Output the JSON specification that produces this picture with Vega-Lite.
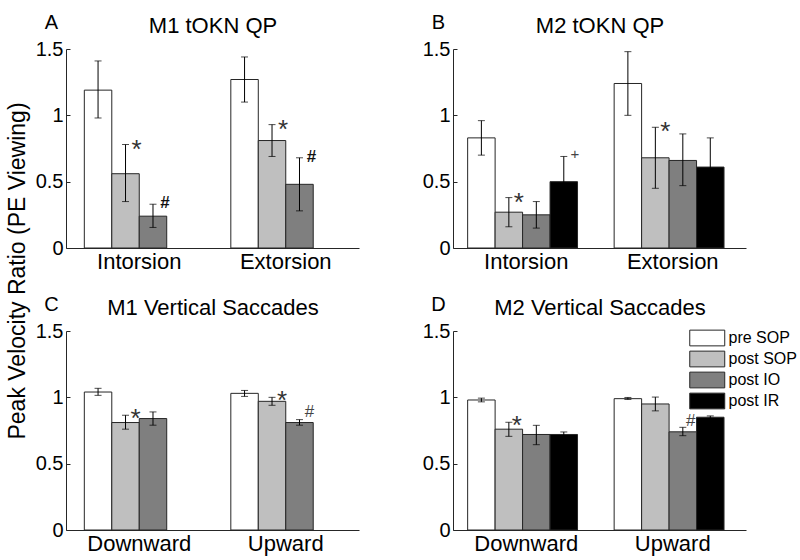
{
  "$schema": "https://vega.github.io/schema/vega-lite/v6.json",
  "padding": {"left": 7, "top": 12, "right": 5, "bottom": 5},
  "background": "white",
  "title": {"text": "Peak Velocity Ratio (PE Viewing)", "orient": "left", "anchor": "middle", "fontSize": 23, "fontWeight": "normal", "font": "Liberation Sans", "color": "#000", "offset": 5, "dx": 12},
  "config": {
    "view": {"stroke": null},
    "font": "Liberation Sans",
    "axis": {"grid": false, "domainColor": "#262626", "tickColor": "#262626", "labelColor": "#000", "titleColor": "#000", "labelFont": "Liberation Sans", "titleFont": "Liberation Sans", "titleFontWeight": "normal"}
  },
  "datasets": {
    "bars": [
      {"panel": "A", "cat": "Intorsion", "cond": "pre SOP", "value": 1.19, "lo": 0.98, "hi": 1.41, "sig": ""},
      {"panel": "A", "cat": "Intorsion", "cond": "post SOP", "value": 0.56, "lo": 0.35, "hi": 0.78, "sig": "*"},
      {"panel": "A", "cat": "Intorsion", "cond": "post IO", "value": 0.24, "lo": 0.155, "hi": 0.33, "sig": "#"},
      {"panel": "A", "cat": "Extorsion", "cond": "pre SOP", "value": 1.27, "lo": 1.10, "hi": 1.44, "sig": ""},
      {"panel": "A", "cat": "Extorsion", "cond": "post SOP", "value": 0.81, "lo": 0.69, "hi": 0.93, "sig": "*"},
      {"panel": "A", "cat": "Extorsion", "cond": "post IO", "value": 0.48, "lo": 0.28, "hi": 0.68, "sig": "#"},
      {"panel": "B", "cat": "Intorsion", "cond": "pre SOP", "value": 0.83, "lo": 0.70, "hi": 0.96, "sig": ""},
      {"panel": "B", "cat": "Intorsion", "cond": "post SOP", "value": 0.27, "lo": 0.16, "hi": 0.38, "sig": "*"},
      {"panel": "B", "cat": "Intorsion", "cond": "post IO", "value": 0.25, "lo": 0.15, "hi": 0.35, "sig": ""},
      {"panel": "B", "cat": "Intorsion", "cond": "post IR", "value": 0.50, "lo": 0.32, "hi": 0.69, "sig": "+"},
      {"panel": "B", "cat": "Extorsion", "cond": "pre SOP", "value": 1.24, "lo": 1.00, "hi": 1.48, "sig": ""},
      {"panel": "B", "cat": "Extorsion", "cond": "post SOP", "value": 0.68, "lo": 0.45, "hi": 0.91, "sig": "*"},
      {"panel": "B", "cat": "Extorsion", "cond": "post IO", "value": 0.66, "lo": 0.47, "hi": 0.86, "sig": ""},
      {"panel": "B", "cat": "Extorsion", "cond": "post IR", "value": 0.61, "lo": 0.40, "hi": 0.83, "sig": ""},
      {"panel": "C", "cat": "Downward", "cond": "pre SOP", "value": 1.04, "lo": 1.015, "hi": 1.068, "sig": ""},
      {"panel": "C", "cat": "Downward", "cond": "post SOP", "value": 0.81, "lo": 0.76, "hi": 0.865, "sig": "*"},
      {"panel": "C", "cat": "Downward", "cond": "post IO", "value": 0.84, "lo": 0.79, "hi": 0.89, "sig": ""},
      {"panel": "C", "cat": "Upward", "cond": "pre SOP", "value": 1.03, "lo": 1.007, "hi": 1.052, "sig": ""},
      {"panel": "C", "cat": "Upward", "cond": "post SOP", "value": 0.97, "lo": 0.94, "hi": 1.0, "sig": "*"},
      {"panel": "C", "cat": "Upward", "cond": "post IO", "value": 0.81, "lo": 0.79, "hi": 0.832, "sig": "#"},
      {"panel": "D", "cat": "Downward", "cond": "pre SOP", "value": 0.98, "lo": 0.966, "hi": 0.994, "sig": ""},
      {"panel": "D", "cat": "Downward", "cond": "post SOP", "value": 0.76, "lo": 0.706, "hi": 0.812, "sig": "*"},
      {"panel": "D", "cat": "Downward", "cond": "post IO", "value": 0.72, "lo": 0.643, "hi": 0.789, "sig": ""},
      {"panel": "D", "cat": "Downward", "cond": "post IR", "value": 0.72, "lo": 0.70, "hi": 0.739, "sig": ""},
      {"panel": "D", "cat": "Upward", "cond": "pre SOP", "value": 0.99, "lo": 0.984, "hi": 0.999, "sig": ""},
      {"panel": "D", "cat": "Upward", "cond": "post SOP", "value": 0.95, "lo": 0.898, "hi": 1.002, "sig": ""},
      {"panel": "D", "cat": "Upward", "cond": "post IO", "value": 0.74, "lo": 0.711, "hi": 0.774, "sig": "#"},
      {"panel": "D", "cat": "Upward", "cond": "post IR", "value": 0.85, "lo": 0.84, "hi": 0.86, "sig": ""}
    ]
  },
  "bounds": "flush",
  "columns": 2,
  "spacing": {"row": 83, "column": 94},
  "resolve": {"legend": {"color": "independent"}},
  "concat": [
    {
      "width": 293, "height": 199,
      "data": {"name": "bars"},
      "transform": [{"filter": "datum.panel == 'A'"}],
      "encoding": {
        "x": {"field": "cat", "type": "nominal", "scale": {"domain": ["Intorsion", "Extorsion"], "paddingInner": 0.25, "paddingOuter": 0.125},
          "axis": {"title": "M1 tOKN QP", "titleY": -216, "titleBaseline": "alphabetic", "titleFontSize": 22, "labelFontSize": 22, "labelAngle": 0, "ticks": false, "labelPadding": 3}},
        "xOffset": {"field": "cond", "type": "nominal", "scale": {"domain": ["pre SOP", "post SOP", "post IO"], "paddingInner": 0, "paddingOuter": 0}}
      },
      "layer": [
        {"mark": {"type": "bar", "stroke": "#262626", "strokeWidth": 1},
          "encoding": {
            "y": {"field": "value", "type": "quantitative", "scale": {"domain": [0, 1.5], "nice": false},
              "axis": {"values": [0, 0.5, 1, 1.5], "format": "~g", "labelFontSize": 20, "tickSize": -4, "labelPadding": 7, "title": "A", "titleAngle": 0, "titleX": -15, "titleY": -21, "titleAlign": "center", "titleBaseline": "alphabetic", "titleFontSize": 20}},
            "color": {"field": "cond", "type": "nominal", "scale": {"domain": ["pre SOP", "post SOP", "post IO", "post IR"], "range": ["#ffffff", "#bfbfbf", "#7f7f7f", "#000000"]}, "legend": null}
          }},
        {"mark": {"type": "rule", "color": "#000", "strokeWidth": 1},
          "encoding": {"y": {"field": "lo", "type": "quantitative", "scale": {"domain": [0, 1.5], "nice": false}}, "y2": {"field": "hi"}}},
        {"mark": {"type": "tick", "color": "#000", "size": 7, "thickness": 1},
          "encoding": {"y": {"field": "lo", "type": "quantitative", "scale": {"domain": [0, 1.5], "nice": false}}}},
        {"mark": {"type": "tick", "color": "#000", "size": 7, "thickness": 1},
          "encoding": {"y": {"field": "hi", "type": "quantitative", "scale": {"domain": [0, 1.5], "nice": false}}}},
        {"transform": [{"filter": "datum.sig == '*'"}],
          "mark": {"type": "text", "fontSize": 26, "dx": 11, "dy": 5, "align": "center", "baseline": "middle", "color": "#333"},
          "encoding": {"y": {"field": "hi", "type": "quantitative", "scale": {"domain": [0, 1.5], "nice": false}}, "text": {"field": "sig"}}},
        {"transform": [{"filter": "datum.sig != '*' && datum.sig != ''"}],
          "mark": {"type": "text", "fontSize": 17, "fontWeight": "bold", "dx": 12, "dy": -1, "align": "center", "baseline": "middle", "color": "#111"},
          "encoding": {"y": {"field": "hi", "type": "quantitative", "scale": {"domain": [0, 1.5], "nice": false}}, "text": {"field": "sig"}}}
      ]
    },
    {
      "width": 293, "height": 199,
      "data": {"name": "bars"},
      "transform": [{"filter": "datum.panel == 'B'"}],
      "encoding": {
        "x": {"field": "cat", "type": "nominal", "scale": {"domain": ["Intorsion", "Extorsion"], "paddingInner": 0.2, "paddingOuter": 0.1},
          "axis": {"title": "M2 tOKN QP", "titleY": -216, "titleBaseline": "alphabetic", "titleFontSize": 22, "labelFontSize": 22, "labelAngle": 0, "ticks": false, "labelPadding": 3}},
        "xOffset": {"field": "cond", "type": "nominal", "scale": {"domain": ["pre SOP", "post SOP", "post IO", "post IR"], "paddingInner": 0, "paddingOuter": 0}}
      },
      "layer": [
        {"mark": {"type": "bar", "stroke": "#262626", "strokeWidth": 1},
          "encoding": {
            "y": {"field": "value", "type": "quantitative", "scale": {"domain": [0, 1.5], "nice": false},
              "axis": {"values": [0, 0.5, 1, 1.5], "format": "~g", "labelFontSize": 20, "tickSize": -4, "labelPadding": 7, "title": "B", "titleAngle": 0, "titleX": -15, "titleY": -21, "titleAlign": "center", "titleBaseline": "alphabetic", "titleFontSize": 20}},
            "color": {"field": "cond", "type": "nominal", "scale": {"domain": ["pre SOP", "post SOP", "post IO", "post IR"], "range": ["#ffffff", "#bfbfbf", "#7f7f7f", "#000000"]}, "legend": null}
          }},
        {"mark": {"type": "rule", "color": "#000", "strokeWidth": 1},
          "encoding": {"y": {"field": "lo", "type": "quantitative", "scale": {"domain": [0, 1.5], "nice": false}}, "y2": {"field": "hi"}}},
        {"mark": {"type": "tick", "color": "#000", "size": 7, "thickness": 1},
          "encoding": {"y": {"field": "lo", "type": "quantitative", "scale": {"domain": [0, 1.5], "nice": false}}}},
        {"mark": {"type": "tick", "color": "#000", "size": 7, "thickness": 1},
          "encoding": {"y": {"field": "hi", "type": "quantitative", "scale": {"domain": [0, 1.5], "nice": false}}}},
        {"transform": [{"filter": "datum.sig == '*'"}],
          "mark": {"type": "text", "fontSize": 26, "dx": 10, "dy": 5, "align": "center", "baseline": "middle", "color": "#333"},
          "encoding": {"y": {"field": "hi", "type": "quantitative", "scale": {"domain": [0, 1.5], "nice": false}}, "text": {"field": "sig"}}},
        {"transform": [{"filter": "datum.sig != '*' && datum.sig != ''"}],
          "mark": {"type": "text", "fontSize": 15, "dx": 11, "dy": -2, "align": "center", "baseline": "middle", "color": "#444"},
          "encoding": {"y": {"field": "hi", "type": "quantitative", "scale": {"domain": [0, 1.5], "nice": false}}, "text": {"field": "sig"}}}
      ]
    },
    {
      "width": 293, "height": 199,
      "data": {"name": "bars"},
      "transform": [{"filter": "datum.panel == 'C'"}],
      "encoding": {
        "x": {"field": "cat", "type": "nominal", "scale": {"domain": ["Downward", "Upward"], "paddingInner": 0.25, "paddingOuter": 0.125},
          "axis": {"title": "M1 Vertical Saccades", "titleY": -216, "titleBaseline": "alphabetic", "titleFontSize": 22, "labelFontSize": 22, "labelAngle": 0, "ticks": false, "labelPadding": 3}},
        "xOffset": {"field": "cond", "type": "nominal", "scale": {"domain": ["pre SOP", "post SOP", "post IO"], "paddingInner": 0, "paddingOuter": 0}}
      },
      "layer": [
        {"mark": {"type": "bar", "stroke": "#262626", "strokeWidth": 1},
          "encoding": {
            "y": {"field": "value", "type": "quantitative", "scale": {"domain": [0, 1.5], "nice": false},
              "axis": {"values": [0, 0.5, 1, 1.5], "format": "~g", "labelFontSize": 20, "tickSize": -4, "labelPadding": 7, "title": "C", "titleAngle": 0, "titleX": -15, "titleY": -21, "titleAlign": "center", "titleBaseline": "alphabetic", "titleFontSize": 20}},
            "color": {"field": "cond", "type": "nominal", "scale": {"domain": ["pre SOP", "post SOP", "post IO", "post IR"], "range": ["#ffffff", "#bfbfbf", "#7f7f7f", "#000000"]}, "legend": null}
          }},
        {"mark": {"type": "rule", "color": "#000", "strokeWidth": 1},
          "encoding": {"y": {"field": "lo", "type": "quantitative", "scale": {"domain": [0, 1.5], "nice": false}}, "y2": {"field": "hi"}}},
        {"mark": {"type": "tick", "color": "#000", "size": 7, "thickness": 1},
          "encoding": {"y": {"field": "lo", "type": "quantitative", "scale": {"domain": [0, 1.5], "nice": false}}}},
        {"mark": {"type": "tick", "color": "#000", "size": 7, "thickness": 1},
          "encoding": {"y": {"field": "hi", "type": "quantitative", "scale": {"domain": [0, 1.5], "nice": false}}}},
        {"transform": [{"filter": "datum.sig == '*'"}],
          "mark": {"type": "text", "fontSize": 26, "dx": 10, "dy": 4, "align": "center", "baseline": "middle", "color": "#333"},
          "encoding": {"y": {"field": "hi", "type": "quantitative", "scale": {"domain": [0, 1.5], "nice": false}}, "text": {"field": "sig"}}},
        {"transform": [{"filter": "datum.sig != '*' && datum.sig != ''"}],
          "mark": {"type": "text", "fontSize": 17, "dx": 10, "dy": -8, "align": "center", "baseline": "middle", "color": "#444"},
          "encoding": {"y": {"field": "hi", "type": "quantitative", "scale": {"domain": [0, 1.5], "nice": false}}, "text": {"field": "sig"}}}
      ]
    },
    {
      "width": 293, "height": 199,
      "data": {"name": "bars"},
      "transform": [{"filter": "datum.panel == 'D'"}],
      "encoding": {
        "x": {"field": "cat", "type": "nominal", "scale": {"domain": ["Downward", "Upward"], "paddingInner": 0.2, "paddingOuter": 0.1},
          "axis": {"title": "M2 Vertical Saccades", "titleY": -216, "titleBaseline": "alphabetic", "titleFontSize": 22, "labelFontSize": 22, "labelAngle": 0, "ticks": false, "labelPadding": 3}},
        "xOffset": {"field": "cond", "type": "nominal", "scale": {"domain": ["pre SOP", "post SOP", "post IO", "post IR"], "paddingInner": 0, "paddingOuter": 0}}
      },
      "layer": [
        {"mark": {"type": "bar", "stroke": "#262626", "strokeWidth": 1},
          "encoding": {
            "y": {"field": "value", "type": "quantitative", "scale": {"domain": [0, 1.5], "nice": false},
              "axis": {"values": [0, 0.5, 1, 1.5], "format": "~g", "labelFontSize": 20, "tickSize": -4, "labelPadding": 7, "title": "D", "titleAngle": 0, "titleX": -15, "titleY": -21, "titleAlign": "center", "titleBaseline": "alphabetic", "titleFontSize": 20}},
            "color": {"field": "cond", "type": "nominal", "scale": {"domain": ["pre SOP", "post SOP", "post IO", "post IR"], "range": ["#ffffff", "#bfbfbf", "#7f7f7f", "#000000"]},
              "legend": {"orient": "none", "legendX": 244.75, "legendY": -2.5, "title": null, "symbolType": "M-2,-0.9H2V0.9H-2Z", "symbolSize": 306, "symbolStrokeColor": "#262626", "symbolStrokeWidth": 1, "symbolOpacity": 1, "labelFontSize": 16, "labelFont": "Liberation Sans", "labelColor": "#000", "labelOffset": 11.75, "rowPadding": 0, "padding": 0}}
          }},
        {"mark": {"type": "rule", "color": "#000", "strokeWidth": 1},
          "encoding": {"y": {"field": "lo", "type": "quantitative", "scale": {"domain": [0, 1.5], "nice": false}}, "y2": {"field": "hi"}}},
        {"mark": {"type": "tick", "color": "#000", "size": 7, "thickness": 1},
          "encoding": {"y": {"field": "lo", "type": "quantitative", "scale": {"domain": [0, 1.5], "nice": false}}}},
        {"mark": {"type": "tick", "color": "#000", "size": 7, "thickness": 1},
          "encoding": {"y": {"field": "hi", "type": "quantitative", "scale": {"domain": [0, 1.5], "nice": false}}}},
        {"transform": [{"filter": "datum.sig == '*'"}],
          "mark": {"type": "text", "fontSize": 26, "dx": 8, "dy": 4, "align": "center", "baseline": "middle", "color": "#333"},
          "encoding": {"y": {"field": "hi", "type": "quantitative", "scale": {"domain": [0, 1.5], "nice": false}}, "text": {"field": "sig"}}},
        {"transform": [{"filter": "datum.sig != '*' && datum.sig != ''"}],
          "mark": {"type": "text", "fontSize": 17, "dx": 8, "dy": -6, "align": "center", "baseline": "middle", "color": "#444"},
          "encoding": {"y": {"field": "hi", "type": "quantitative", "scale": {"domain": [0, 1.5], "nice": false}}, "text": {"field": "sig"}}}
      ]
    }
  ]
}
